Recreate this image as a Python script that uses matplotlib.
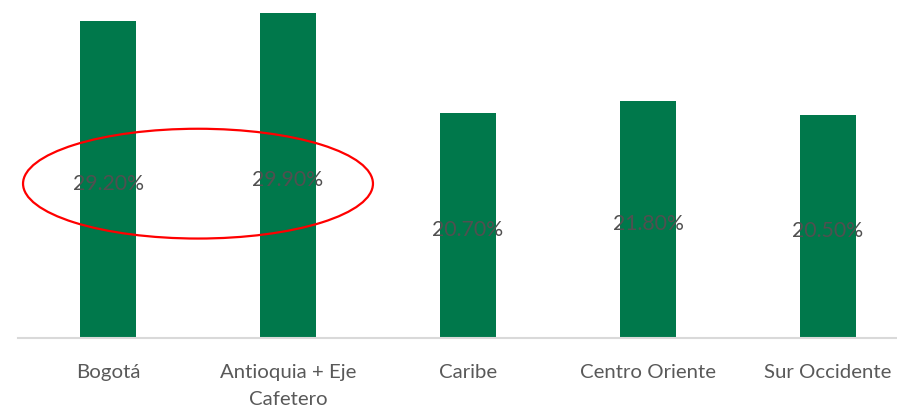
import matplotlib
matplotlib.use("Agg")
import matplotlib.pyplot as plt
from matplotlib.patches import Ellipse

# ── data ──
regions = ["Bogotá", "Antioquia + Eje\nCafetero", "Caribe", "Centro Oriente", "Sur Occidente"]
shares = [29.2, 29.9, 20.7, 21.8, 20.5]
labels = ["29.20%", "29.90%", "20.70%", "21.80%", "20.50%"]

GREEN = "#00784b"
TEXT = "#595959"
FONT = "Lato"

W, H, DPI = 897, 409, 100
fig = plt.figure(figsize=(W / DPI, H / DPI), dpi=DPI)
fig.patch.set_facecolor("white")

# axes extend past the right edge (reference is cropped there)
left_px, right_px, base_px = 18, 918, 338
ax = fig.add_axes([left_px / W, (H - base_px) / H, (right_px - left_px) / W, base_px / H])
ax.set_facecolor("none")

x = list(range(len(regions)))
ax.bar(x, shares, width=0.31, color=GREEN, zorder=2)
ax.set_xlim(-0.5, len(regions) - 0.5)
ax.set_ylim(0, base_px / 10.87)

for xi, v, lab in zip(x, shares, labels):
    ax.text(xi, v / 2 - 0.4, lab, ha="center", va="center", fontsize=15.3,
            family=FONT, color="#505050", zorder=3)

ax.set_xticks(x)
ax.set_xticklabels(regions, fontsize=14.7, family=FONT, color=TEXT, linespacing=1.7)
ax.tick_params(axis="x", length=0, pad=19)
ax.set_yticks([])
for s in ("left", "right", "top"):
    ax.spines[s].set_visible(False)
ax.spines["bottom"].set_color("#d9d9d9")
ax.spines["bottom"].set_linewidth(1.5)

# red highlight ring around the first two labels
ax.add_patch(Ellipse((0.5, 14.2), 1.944, 10.1, fill=False, edgecolor="#ff0000",
                     linewidth=1.6, zorder=4, clip_on=False))

fig.savefig("out.png", dpi=DPI, facecolor="white")
